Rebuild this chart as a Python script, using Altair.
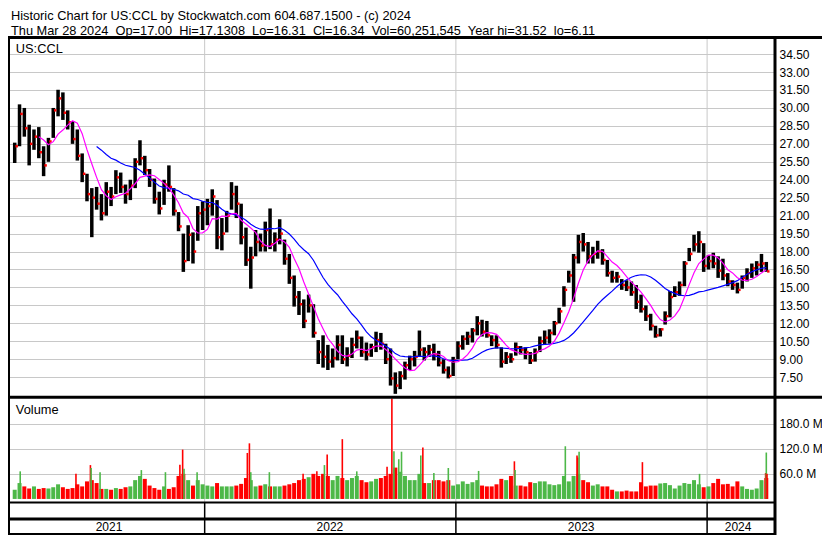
import altair as alt
import pandas as pd

# ----------------------------------------------------------------- data
first_week = "2021-03-31"   # mid-week date of the first weekly price bar

high = [27.1, 30.3, 30.0, 28.6, 28.2, 28.4, 26.8, 27.5, 30.0, 31.52,
        31.3, 29.8, 28.9, 28.2, 26.2, 24.5, 23.3, 23.4, 22.8, 23.8,
        23.4, 24.8, 24.6, 23.6, 24.0, 25.8, 27.3, 26.0, 24.9, 24.1,
        23.0, 24.0, 25.2, 23.3, 21.3, 19.5, 20.2, 19.6, 21.8, 22.2,
        22.4, 23.2, 22.3, 20.8, 21.4, 23.8, 23.5, 22.0, 20.0, 18.4,
        19.8, 19.5, 20.5, 21.6, 19.6, 20.7, 19.0, 17.8, 16.0, 14.7,
        14.0, 14.4, 13.6, 10.6, 11.0, 10.2, 9.9, 11.0, 11.0, 10.0,
        10.8, 11.4, 10.9, 10.4, 10.3, 11.3, 11.2, 10.3, 9.9, 7.9,
        8.0, 8.8, 9.3, 9.7, 11.4, 10.0, 10.2, 10.3, 9.7, 9.0,
        8.4, 9.2, 10.5, 11.0, 11.3, 11.6, 12.6, 12.3, 12.2, 11.0,
        11.0, 10.0, 9.6, 9.5, 10.4, 10.1, 10.0, 9.6, 9.9, 10.9,
        11.4, 11.5, 12.2, 13.3, 15.1, 16.4, 17.8, 19.4, 19.55, 18.8,
        18.4, 18.9, 18.2, 17.3, 16.4, 16.3, 15.7, 15.6, 15.5, 15.2,
        14.4, 13.5, 12.8, 11.8, 11.6, 13.0, 14.7, 15.1, 15.5, 17.2,
        18.3, 19.4, 19.7, 18.7, 17.7, 17.9, 17.6, 17.4, 16.2, 15.6,
        15.4, 16.0, 16.6, 17.0, 17.2, 17.8, 17.13]

low = [25.4, 26.8, 27.6, 25.2, 26.5, 25.8, 24.3, 25.5, 27.5, 29.3,
       29.0, 28.2, 27.0, 25.6, 23.8, 22.2, 19.2, 21.5, 20.6, 21.0,
       21.8, 22.8, 22.9, 22.0, 22.3, 23.3, 25.2, 24.4, 23.4, 22.0,
       21.1, 21.9, 23.0, 21.0, 19.7, 16.3, 17.2, 17.0, 18.9, 19.8,
       20.2, 21.0, 18.2, 18.1, 19.6, 21.5, 20.8, 18.6, 16.8, 14.9,
       17.6, 18.0, 18.0, 18.2, 18.0, 18.6, 16.9, 15.3, 13.4, 12.7,
       11.6, 12.9, 10.8, 8.6, 8.3, 8.1, 8.3, 8.9, 8.6, 8.4,
       9.1, 9.9, 9.2, 8.9, 9.2, 9.6, 9.8, 8.6, 6.8, 6.11,
       6.5, 7.3, 8.1, 8.4, 9.2, 8.9, 9.2, 8.9, 8.4, 7.8,
       7.4, 7.6, 9.0, 9.8, 10.2, 10.4, 11.0, 10.9, 10.8, 10.1,
       9.9, 8.3, 8.6, 8.7, 9.3, 9.4, 9.0, 8.6, 8.8, 9.6,
       10.2, 10.3, 11.0, 12.0, 13.4, 15.4, 13.8, 17.0, 18.0, 17.0,
       17.0, 17.4, 16.9, 15.9, 15.4, 15.4, 14.8, 14.7, 14.3, 13.2,
       12.9, 12.2, 11.4, 10.8, 10.9, 11.9, 12.5, 14.2, 14.3, 15.1,
       17.2, 18.0, 17.9, 16.3, 16.5, 16.6, 15.8, 15.6, 15.1, 14.8,
       14.5, 14.9, 15.5, 15.8, 16.0, 16.3, 16.31]

close = [26.8, 29.5, 28.3, 27.0, 27.6, 26.3, 25.2, 27.2, 29.8, 30.8,
         29.6, 28.8, 27.4, 26.0, 24.5, 22.8, 22.5, 22.0, 21.2, 23.0,
         22.6, 24.2, 23.4, 22.8, 23.5, 25.5, 25.8, 24.8, 24.0, 22.4,
         21.6, 23.6, 23.4, 21.4, 20.1, 17.2, 19.4, 18.0, 21.2, 21.5,
         21.8, 22.6, 19.2, 19.5, 21.0, 22.8, 22.0, 19.2, 17.3, 17.5,
         18.8, 18.5, 19.8, 18.6, 19.0, 19.5, 17.4, 15.8, 14.2, 13.6,
         12.2, 13.5, 11.2, 9.6, 9.2, 8.8, 9.1, 10.2, 9.0, 9.3,
         10.2, 10.8, 9.6, 9.4, 10.0, 10.6, 10.3, 9.0, 7.4, 6.8,
         7.6, 8.5, 9.0, 9.2, 9.8, 9.6, 9.8, 9.4, 8.7, 8.1,
         7.6, 8.9, 10.1, 10.7, 10.9, 11.4, 12.0, 11.3, 11.0, 10.6,
         10.2, 8.8, 9.2, 9.0, 10.0, 9.8, 9.6, 8.9, 9.6, 10.5,
         10.8, 11.2, 12.0, 13.0, 14.8, 16.0, 17.5, 18.8, 18.6, 17.6,
         17.8, 18.0, 17.3, 16.2, 15.8, 15.9, 15.2, 15.0, 14.6, 13.8,
         13.2, 12.6, 11.8, 11.0, 11.5, 12.6, 14.2, 14.6, 15.2, 17.0,
         17.8, 18.6, 18.8, 16.8, 17.2, 17.0, 16.4, 16.0, 15.5, 15.2,
         14.8, 15.8, 16.2, 16.6, 16.9, 17.0, 16.34]

# typical daily volume of each week, millions of shares
volume_m = [22, 38, 30, 25, 30, 24, 26, 25, 28, 35,
            28, 24, 26, 35, 30, 42, 45, 38, 24, 24,
            22, 26, 24, 28, 30, 45, 55, 48, 32, 26,
            22, 30, 24, 28, 55, 60, 45, 32, 45, 35,
            32, 30, 38, 30, 30, 30, 32, 36, 50, 45,
            30, 32, 35, 30, 30, 30, 32, 35, 38, 45,
            48, 52, 60, 55, 60, 55, 45, 55, 50, 45,
            50, 55, 45, 40, 42, 48, 50, 55, 60, 75,
            65, 55, 45, 45, 60, 38, 38, 45, 45, 42,
            45, 32, 35, 42, 36, 40, 45, 32, 30, 30,
            35, 48, 45, 55, 32, 32, 30, 40, 38, 42,
            42, 35, 33, 35, 55, 42, 55, 60, 45, 40,
            32, 35, 30, 30, 22, 18, 18, 20, 18, 18,
            40, 30, 32, 32, 37, 38, 33, 25, 32, 38,
            36, 45, 35, 28, 30, 38, 48, 35, 36, 30,
            42, 30, 24, 22, 25, 45, 50]

# single heavy-volume sessions
spike_dates = ["2021-04-08", "2021-06-28", "2021-07-19", "2021-07-20", "2021-08-02",
               "2021-10-01", "2021-11-05", "2021-11-26", "2021-11-30", "2021-12-02",
               "2021-12-21", "2022-03-04", "2022-03-07", "2022-03-09", "2022-04-05",
               "2022-05-24", "2022-06-13", "2022-06-24", "2022-06-28", "2022-07-20",
               "2022-08-10", "2022-09-23", "2022-09-30", "2022-10-03", "2022-10-10",
               "2022-10-14", "2022-11-11", "2022-11-14", "2022-11-30", "2022-12-21",
               "2023-02-03", "2023-03-27", "2023-03-28", "2023-06-09", "2023-06-26",
               "2023-06-27", "2023-06-29", "2023-09-29", "2023-12-21", "2024-03-26",
               "2024-03-27", "2024-03-28"]
spike_volume_m = [66, 60, 81, 74, 64,
                  69, 64, 82, 118, 72,
                  64, 110, 133, 64, 64,
                  60, 66, 81, 106, 143,
                  66, 77, 240, 114, 95,
                  113, 104, 123, 62, 74,
                  67, 90, 69, 126, 104,
                  99, 113, 88, 60, 62,
                  111, 60.25]
spike_dir = ["up", "down", "down", "up", "up",
             "up", "up", "down", "down", "up",
             "up", "down", "down", "up", "up",
             "down", "down", "up", "down", "down",
             "up", "down", "down", "up", "up",
             "up", "up", "down", "up", "up",
             "up", "down", "up", "up", "down",
             "down", "up", "down", "up", "down",
             "up", "down"]

year_starts = ["2022-01-01", "2023-01-01", "2024-01-01"]
year_labels = ["2021", "2022", "2023", "2024"]
year_label_dates = ["2021-08-15", "2022-07-02", "2023-07-02", "2024-02-15"]
price_ticks = [7.5, 9.0, 10.5, 12.0, 13.5, 15.0, 16.5, 18.0, 19.5, 21.0,
               22.5, 24.0, 25.5, 27.0, 28.5, 30.0, 31.5, 33.0, 34.5]
volume_ticks = [60e6, 120e6, 180e6]

header_1 = "Historic Chart for US:CCL by Stockwatch.com 604.687.1500 - (c) 2024"
header_2 = ("Thu Mar 28 2024  Op=17.00  Hi=17.1308  Lo=16.31  Cl=16.34  "
            "Vol=60,251,545  Year hi=31.52  lo=6.11").replace("  ", "\u00a0 ")
symbol_label = "US:CCL"
volume_label = "Volume"

# ----------------------------------------------------------------- geometry
REF_W, REF_H = 830, 543
CANVAS_W, CANVAS_H = 814, 527
FX, FY = CANVAS_W / REF_W, CANVAS_H / REF_H


def px(v):
    return v * FX


def py(v):
    return v * FY


W = round(px(782))
H = CANVAS_H
FONT = "Liberation Sans, Arial, sans-serif"
GRID = "#c8c8c8"
GREEN = "#4db848"
RED = "#ff0000"

# time axis: 2022-01-01 sits at x=198 of the reference, 0.711 px per day
anchor = pd.Timestamp("2022-01-01")
t0 = anchor - pd.Timedelta(days=198 / 0.711)
t1 = anchor + pd.Timedelta(days=(782 - 198) / 0.711)


def dt(ts):
    return alt.DateTime(year=ts.year, month=ts.month, date=ts.day,
                        hours=ts.hour, minutes=ts.minute, utc=True)


x_scale = alt.Scale(type="utc", domain=[dt(t0), dt(t1)])

top_px, bot_px = py(47.5), py(380.4)
per_unit = (bot_px - top_px) / (34.5 - 7.5)
p_max = 34.5 + top_px / per_unit
p_min = 34.5 - (H - top_px) / per_unit
price_scale = alt.Scale(domain=[p_min, p_max], nice=False, zero=False)

v180, v60 = py(428.3), py(480.0)
per_vol = (v60 - v180) / 120e6
v_max = 180e6 + v180 / per_vol
v_min = 180e6 - (H - v180) / per_vol
vol_scale = alt.Scale(domain=[v_min, v_max], nice=False, zero=False)

price_axis = alt.Axis(orient="right", values=price_ticks, format=".2f", grid=True,
                      gridColor=GRID, gridWidth=1, domain=False, ticks=False,
                      labelPadding=4, labelFont=FONT, labelFontSize=12,
                      labelColor="black", labelOverlap=False, title=None)
vol_axis = alt.Axis(orient="right", values=volume_ticks, grid=True, gridColor=GRID,
                    gridWidth=1, domain=False, ticks=False, labelPadding=4,
                    labelFont=FONT, labelFontSize=12, labelColor="black",
                    labelOverlap=False, title=None,
                    labelExpr="format(datum.value / 1000000, '.1f') + ' M'")


def X(field):
    return alt.X(f"{field}:T", scale=x_scale, axis=None)


def YP(field):
    return alt.Y(f"{field}:Q", scale=price_scale, axis=price_axis)


def YV(field):
    return alt.Y(f"{field}:Q", scale=vol_scale, axis=vol_axis)


# ----------------------------------------------------------------- tables
dates = pd.date_range(first_week, periods=len(close), freq="7D").strftime("%Y-%m-%d")
weekly = pd.DataFrame({"date": dates, "high": high, "low": low, "close": close,
                       "vol": [v * 1e6 for v in volume_m]})
weekly["dir"] = ["up" if i == 0 or close[i] >= close[i - 1] else "down"
                 for i in range(len(close))]
spikes = pd.DataFrame({"date": spike_dates, "vol": [v * 1e6 for v in spike_volume_m],
                       "dir": spike_dir})
bounds = pd.DataFrame({"date": year_starts})
years = pd.DataFrame({"date": year_label_dates, "label": year_labels})
one = pd.DataFrame({"k": [0]})
dir_color = alt.Color("dir:N", scale=alt.Scale(domain=["up", "down"], range=[GREEN, RED]),
                      legend=None)

# ----------------------------------------------------------------- price panel
bars = alt.Chart(weekly).mark_rule(color="black", strokeWidth=3.5).encode(
    x=X("date"), y=YP("low"), y2="high")
dots = alt.Chart(weekly).mark_square(color=RED, size=6, opacity=1, xOffset=2).encode(
    x=X("date"), y=YP("close"))
ma_slow = alt.Chart(weekly).transform_window(
    ma="mean(close)", n="count()", frame=[-17, 0], sort=[alt.SortField("date")]
).transform_filter("datum.n >= 18").mark_line(color="#0000ff", strokeWidth=1.2).encode(
    x=X("date"), y=YP("ma"))
ma_fast = alt.Chart(weekly).transform_window(
    ma="mean(close)", n="count()", frame=[-5, 0], sort=[alt.SortField("date")]
).transform_filter("datum.n >= 6").mark_line(color="#ff00ff", strokeWidth=1.2).encode(
    x=X("date"), y=YP("ma"))
price = alt.layer(bars, dots, ma_slow, ma_fast)

# ----------------------------------------------------------------- volume panel
vol_bars = alt.Chart(weekly).mark_bar(size=4).encode(
    x=X("date"), y=YV("vol"), y2=alt.value(py(509.5)), color=dir_color)
spike_bars = alt.Chart(spikes).mark_bar(size=1.6).encode(
    x=X("date"), y=YV("vol"), y2=alt.value(py(509.5)), color=dir_color)
volume = alt.layer(vol_bars, spike_bars)

# ----------------------------------------------------------------- frame & text
year_grid = alt.Chart(bounds).mark_rule(color=GRID, strokeWidth=1).encode(
    x=X("date"), y=alt.value(py(31)), y2=alt.value(py(509.5)))
year_sep = alt.Chart(bounds).mark_rule(color="black", strokeWidth=1.5).encode(
    x=X("date"), y=alt.value(py(509.5)), y2=alt.value(H))


def hline(y, x0, x1, w):
    return alt.Chart(one).mark_rule(color="black", strokeWidth=w).encode(
        x=alt.value(x0), x2=alt.value(x1), y=alt.value(y))


def vline(x, y0, y1, w):
    return alt.Chart(one).mark_rule(color="black", strokeWidth=w).encode(
        x=alt.value(x), y=alt.value(y0), y2=alt.value(y1))


def label(text, x, y, size=12.8):
    return alt.Chart(one).mark_text(text=text, align="left", baseline="alphabetic",
                                    font=FONT, fontSize=size, color="black").encode(
        x=alt.value(x), y=alt.value(y))


frames = [
    hline(py(30.5), 0, CANVAS_W, 3),
    hline(py(401), 0, CANVAS_W, 3),
    hline(py(509.5), 0, W, 2),
    hline(py(526.5), 0, W, 3),
    hline(H - 1, 0, W, 2),
    vline(1, py(30), H, 2),
    vline(W, py(30), H, 3),
]
texts = [
    label(header_1, px(3), py(12.5)),
    label(header_2, px(3), py(28)),
    label(symbol_label, px(8), py(46.5)),
    label(volume_label, px(8), py(418)),
]
year_text = alt.Chart(years).mark_text(align="center", baseline="middle", font=FONT,
                                        fontSize=12, color="black").encode(
    x=X("date"), y=alt.value(py(534.5)), text="label:N")

chart = alt.layer(
    year_grid, price, volume, year_sep, *frames, *texts, year_text
).resolve_scale(y="independent").properties(
    width=W, height=H, autosize=alt.AutoSizeParams(type="none"),
    padding={"left": 0, "top": 0, "right": CANVAS_W - W, "bottom": 0},
    background="white",
).configure_view(strokeWidth=0)

chart.save("out.html", embed_options={"renderer": "svg", "actions": False})
